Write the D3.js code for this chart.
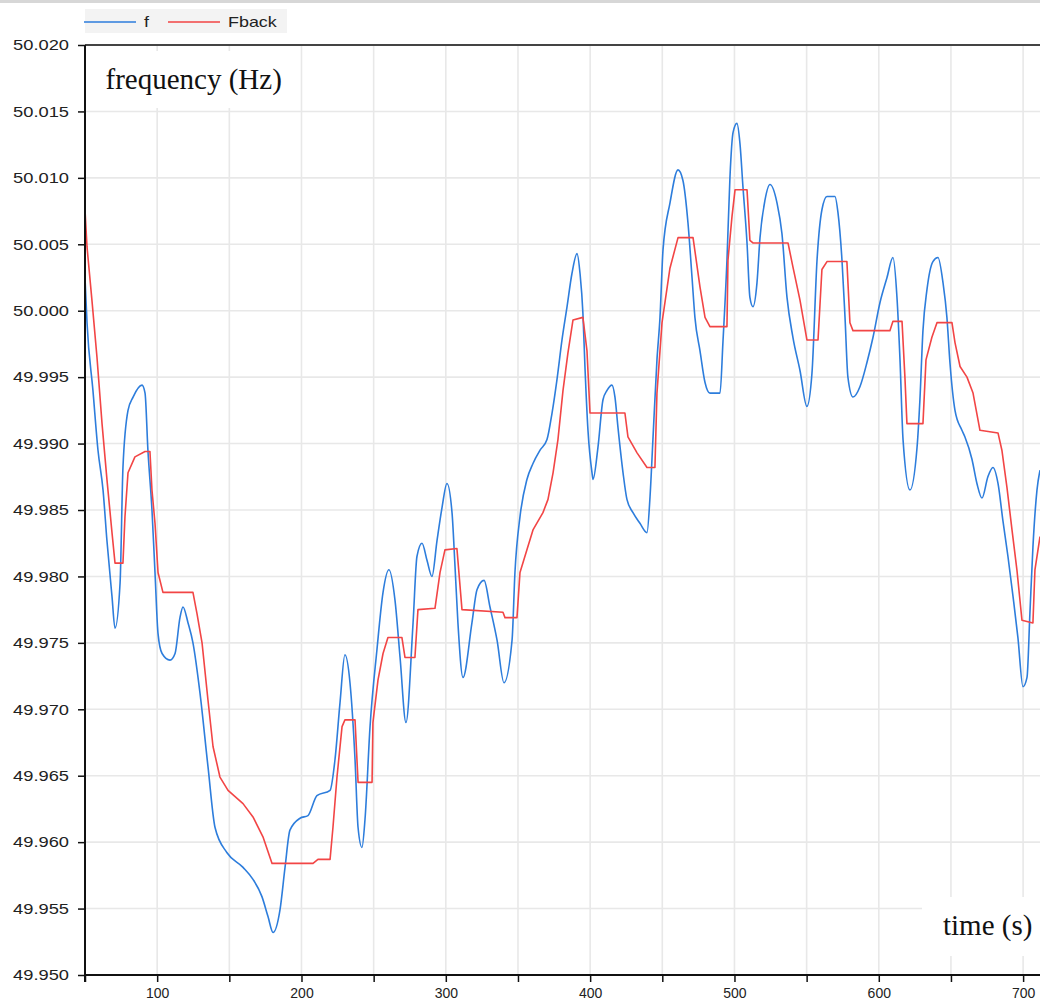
<!DOCTYPE html>
<html>
<head>
<meta charset="utf-8">
<script src="https://cdn.jsdelivr.net/npm/d3@7"></script>
<style>
  html, body { margin: 0; padding: 0; background: #fff; }
  svg { display: block; }
</style>
</head>
<body>
<div id="chart"></div>
<script>
// f (blue) - time (s) and frequency (Hz)
const fTime = [50, 51.4, 55.5, 59.0, 62.5, 65.2, 68.7, 70.8, 74.3, 76.3, 79.8, 83.3, 89.5, 91.6, 93.6, 96.4, 98.5,
  100.6, 103.4, 108.9, 112.4, 115.8, 117.9, 121.4, 124.8, 129.7, 135.2, 140.1, 148.4, 159.5, 166.4, 172.6, 176.8,
  180.3, 185.1, 188.6, 192.0, 199.0, 204.5, 210.7, 219.8, 223.2, 226.7, 230.1, 233.6, 237.1, 239.2, 241.9, 244.0,
  247.5, 252.3, 256.5, 260.6, 264.8, 268.3, 272.4, 277.3, 280.0, 283.5, 287.0, 290.4, 293.9, 297.4, 300.8, 304.3,
  306.4, 308.4, 311.9, 318.1, 321.6, 326.5, 330.6, 335.5, 340.3, 345.9, 347.9, 351.4, 356.2, 360.4, 365.3, 370.1,
  373.6, 377.0, 380.5, 384.0, 387.4, 390.9, 393.0, 395.0, 396.4, 398.5, 401.3, 402.0, 405.4, 408.9, 411.7, 415.1,
  417.2, 419.3, 422.8, 425.5, 429.7, 434.5, 439.4, 441.5, 443.5, 446.3, 448.4, 450.5, 455.3, 460.9, 464.3, 467.8,
  470.6, 472.6, 476.1, 479.6, 483.0, 490.0, 492.0, 494.8, 496.9, 499.0, 501.7, 503.8, 505.9, 508.7, 510.7, 512.8,
  515.6, 517.7, 521.1, 524.6, 529.5, 532.9, 536.4, 540.5, 545.4, 550.2, 553.7, 557.2, 560.6, 564.1, 569.6, 571.7,
  574.5, 576.6, 578.6, 582.1, 587.0, 591.8, 596.0, 600.8, 605.7, 609.8, 612.6, 614.7, 616.8, 621.6, 626.5, 628.5,
  630.6, 633.4, 637.5, 641.0, 644.5, 647.2, 649.3, 652.8, 657.6, 659.7, 664.6, 668.0, 671.5, 675.6, 679.1, 682.6,
  686.0, 689.5, 693.0, 696.4, 699.9, 702.7, 704.7, 706.8, 709.6, 711.7];
const fValue = [50.0025, 49.9991, 49.9940, 49.9895, 49.9865, 49.9827, 49.9785, 49.9761, 49.9795, 49.9882, 49.9925, 49.9935, 49.9944, 49.9938, 49.9895, 49.9850, 49.9803,
  49.9757, 49.9742, 49.9737, 49.9742, 49.9769, 49.9777, 49.9765, 49.9750, 49.9712, 49.9657, 49.9611, 49.9592, 49.9581, 49.9572, 49.9559, 49.9544,
  49.9532, 49.9549, 49.9581, 49.9609, 49.9618, 49.9620, 49.9635, 49.9639, 49.9662, 49.9705, 49.9741, 49.9720, 49.9662, 49.9611, 49.9596, 49.9617,
  49.9687, 49.9745, 49.9788, 49.9805, 49.9782, 49.9739, 49.9690, 49.9765, 49.9815, 49.9825, 49.9812, 49.9800, 49.9827, 49.9852, 49.9870, 49.9848,
  49.9807, 49.9765, 49.9724, 49.9765, 49.9790, 49.9797, 49.9777, 49.9752, 49.9720, 49.9752, 49.9803, 49.9845, 49.9873, 49.9885, 49.9895, 49.9903,
  49.9923, 49.9948, 49.9978, 50.0003, 50.0028, 50.0043, 50.0028, 49.9998, 49.9958, 49.9910, 49.9878, 49.9873, 49.9897, 49.9933, 49.9940, 49.9944,
  49.9935, 49.9912, 49.9878, 49.9858, 49.9848, 49.9840, 49.9833, 49.9860, 49.9903, 49.9963, 49.9995, 50.0046, 50.0081, 50.0106, 50.0098, 50.0066,
  50.0025, 49.9995, 49.9970, 49.9946, 49.9938, 49.9938, 49.9976, 50.0038, 50.0101, 50.0134, 50.0141, 50.0126, 50.0093, 50.0051, 50.0010, 50.0003,
  50.0021, 50.0055, 50.0083, 50.0095, 50.0081, 50.0058, 50.0010, 49.9980, 49.9955, 49.9928, 49.9953, 50.0038, 50.0076, 50.0086, 50.0086, 50.0074,
  50.0038, 49.9995, 49.9950, 49.9935, 49.9943, 49.9961, 49.9980, 50.0006, 50.0025, 50.0040, 50.0010, 49.9963, 49.9903, 49.9865, 49.9897, 49.9933,
  49.9985, 50.0016, 50.0037, 50.0040, 50.0021, 49.9995, 49.9961, 49.9925, 49.9910, 49.9905, 49.9888, 49.9870, 49.9859, 49.9875, 49.9882, 49.9870,
  49.9842, 49.9815, 49.9785, 49.9754, 49.9717, 49.9724, 49.9772, 49.9822, 49.9865, 49.9880];

// Fback (red)
const fbTime = [50, 51.4, 54.8, 58.3, 61.8, 65.2, 68.7, 70.8, 76.3, 77.7, 79.8, 84.6, 91.6, 95.0, 96.4, 98.5, 100.6,
  104.0, 124.8, 127.6, 131.1, 135.2, 138.7, 143.5, 149.1, 159.5, 166.4, 173.3, 179.6, 208.0, 211.4, 219.8, 221.8,
  224.6, 228.1, 230.1, 237.1, 239.2, 248.9, 249.5, 253.0, 256.5, 259.9, 269.6, 271.7, 278.6, 280.7, 292.5, 296.0,
  299.4, 307.7, 311.2, 339.6, 341.0, 349.3, 351.4, 356.2, 360.4, 367.3, 370.8, 374.3, 377.7, 381.2, 384.6, 388.1,
  395.0, 397.8, 399.9, 424.1, 426.2, 432.5, 439.4, 444.9, 446.3, 449.8, 455.3, 460.9, 471.3, 476.1, 479.6, 483.0,
  494.8, 495.5, 498.3, 500.4, 508.7, 510.7, 512.8, 537.1, 540.5, 545.4, 550.2, 557.9, 560.6, 564.1, 577.9, 580.0,
  582.1, 607.7, 609.8, 616.1, 618.1, 619.5, 630.6, 632.7, 636.8, 640.3, 650.7, 652.8, 656.3, 661.1, 665.3, 670.1,
  682.6, 685.3, 688.8, 692.3, 695.7, 699.2, 706.8, 708.2, 711.7];
const fbValue = [50.0076, 50.0048, 50.0008, 49.9965, 49.9915, 49.9873, 49.9833, 49.9810, 49.9810, 49.9845, 49.9878, 49.9890, 49.9894, 49.9894, 49.9865, 49.9840, 49.9803,
  49.9788, 49.9788, 49.9772, 49.9750, 49.9707, 49.9672, 49.9649, 49.9639, 49.9629, 49.9619, 49.9604, 49.9584, 49.9584, 49.9587, 49.9587, 49.9611,
  49.9649, 49.9687, 49.9692, 49.9692, 49.9645, 49.9645, 49.9690, 49.9722, 49.9742, 49.9754, 49.9754, 49.9739, 49.9739, 49.9775, 49.9776, 49.9803,
  49.9820, 49.9821, 49.9775, 49.9773, 49.9769, 49.9769, 49.9803, 49.9820, 49.9835, 49.9848, 49.9858, 49.9878, 49.9903, 49.9940, 49.9968, 49.9993,
  49.9995, 49.9970, 49.9923, 49.9923, 49.9905, 49.9893, 49.9882, 49.9882, 49.9938, 49.9991, 50.0032, 50.0055, 50.0055, 50.0018, 49.9995, 49.9988,
  49.9988, 50.0038, 50.0071, 50.0091, 50.0091, 50.0053, 50.0051, 50.0051, 50.0033, 50.0008, 49.9978, 49.9978, 50.0031, 50.0037, 50.0037, 49.9991,
  49.9985, 49.9985, 49.9992, 49.9992, 49.9950, 49.9915, 49.9915, 49.9963, 49.9980, 49.9991, 49.9991, 49.9976, 49.9958, 49.9950, 49.9938, 49.9910,
  49.9908, 49.9895, 49.9867, 49.9835, 49.9805, 49.9767, 49.9765, 49.9805, 49.9830];

const seriesNames = ["f", "Fback"];
const seriesColors = ["#2d7ddc", "#f24545"];
const xTicks = [50, 100, 150, 200, 250, 300, 350, 400, 450, 500, 550, 600, 650, 700];
const xTickLabels = ["", "100", "", "200", "", "300", "", "400", "", "500", "", "600", "", "700"];
const yTicks = [49.950, 49.955, 49.960, 49.965, 49.970, 49.975, 49.980, 49.985, 49.990, 49.995, 50.000, 50.005, 50.010, 50.015, 50.020];
const yLabel = "frequency (Hz)";
const xLabel = "time (s)";

const width = 1040, height = 1003;
const plot = { left: 85, top: 45, right: 1040, bottom: 975 };

const svg = d3.select("#chart").append("svg")
  .attr("width", width)
  .attr("height", height);

const x = d3.scaleLinear().domain([50, 711.7]).range([plot.left, plot.right]);
const y = d3.scaleLinear().domain([49.950, 50.020]).range([plot.bottom, plot.top]);

// top strip
svg.append("rect").attr("x", 0).attr("y", 0).attr("width", width).attr("height", 3).attr("fill", "#d7d7d7");

// grid
const grid = svg.append("g");
grid.selectAll("line.v")
  .data(xTicks.filter(d => d > 50))
  .enter().append("line")
  .attr("x1", d => x(d)).attr("x2", d => x(d))
  .attr("y1", plot.top).attr("y2", plot.bottom)
  .attr("stroke", "#e8e8e8").attr("stroke-width", 1.6);
grid.selectAll("line.h")
  .data(yTicks.slice(1, -1))
  .enter().append("line")
  .attr("x1", plot.left).attr("x2", plot.right)
  .attr("y1", d => y(d)).attr("y2", d => y(d))
  .attr("stroke", "#e8e8e8").attr("stroke-width", 1.6);

// series
svg.append("clipPath").attr("id", "clip")
  .append("rect")
  .attr("x", plot.left - 1).attr("y", plot.top)
  .attr("width", plot.right - plot.left + 1).attr("height", plot.bottom - plot.top);

const smoothLine = d3.line().x(d => x(d[0])).y(d => y(d[1])).curve(d3.curveMonotoneX);
const stepLine = d3.line().x(d => x(d[0])).y(d => y(d[1]));
const fData = fTime.map((t, i) => [t, fValue[i]]);
const fbData = fbTime.map((t, i) => [t, fbValue[i]]);

const lines = svg.append("g").attr("clip-path", "url(#clip)");
lines.append("path").datum(fData)
  .attr("fill", "none").attr("stroke", seriesColors[0]).attr("stroke-width", 1.6)
  .attr("stroke-linejoin", "round").attr("d", smoothLine);
lines.append("path").datum(fbData)
  .attr("fill", "none").attr("stroke", seriesColors[1]).attr("stroke-width", 1.6)
  .attr("stroke-linejoin", "round").attr("d", stepLine);

// label boxes
svg.append("rect").attr("x", 86).attr("y", 51).attr("width", 204).attr("height", 57).attr("fill", "#fff");
svg.append("text")
  .attr("x", 105.5).attr("y", 89)
  .style("font-family", "'Liberation Serif', 'Times New Roman', serif")
  .style("font-size", "29px").attr("fill", "#111")
  .text(yLabel);

svg.append("rect").attr("x", 922).attr("y", 897).attr("width", 118).attr("height", 59).attr("fill", "#fff");
svg.append("text")
  .attr("x", 943).attr("y", 935)
  .style("font-family", "'Liberation Serif', 'Times New Roman', serif")
  .style("font-size", "29px").attr("fill", "#111")
  .text(xLabel);

// top frame line
svg.append("line")
  .attr("x1", plot.left).attr("x2", plot.right)
  .attr("y1", plot.top).attr("y2", plot.top)
  .attr("stroke", "#444").attr("stroke-width", 2);

// axes
const yAxis = d3.axisLeft(y).tickValues(yTicks).tickSize(7).tickSizeOuter(0);
const gy = svg.append("g")
  .attr("transform", `translate(${plot.left},0)`)
  .call(yAxis);
gy.select(".domain").attr("stroke", "#111").attr("stroke-width", 2)
  .attr("d", `M0,${plot.top}V${plot.bottom + 7}`);
gy.selectAll(".tick line").attr("stroke", "#111").attr("stroke-width", 1.5);
gy.selectAll(".tick text")
  .attr("x", 0)
  .attr("transform", "translate(-16,0) scale(1.22,1)")
  .attr("fill", "#222")
  .style("font-family", "'Liberation Sans', Arial, sans-serif")
  .style("font-size", "15px")
  .text(d => d3.format(".3f")(d));

const xAxis = d3.axisBottom(x).tickValues(xTicks).tickSize(7).tickSizeOuter(0).tickPadding(6)
  .tickFormat((d, i) => xTickLabels[i]);
const gx = svg.append("g")
  .attr("transform", `translate(0,${plot.bottom})`)
  .call(xAxis);
gx.select(".domain").attr("stroke", "#111").attr("stroke-width", 2)
  .attr("d", `M${plot.left - 1},0H${plot.right}`);
gx.selectAll(".tick line").attr("stroke", "#111").attr("stroke-width", 1.5);
gx.selectAll(".tick text")
  .attr("fill", "#222")
  .style("font-family", "'Liberation Sans', Arial, sans-serif")
  .style("font-size", "14px");

// legend
const legend = svg.append("g");
legend.append("rect").attr("x", 85).attr("y", 9).attr("width", 202).attr("height", 24).attr("fill", "#f3f3f3");
const legendX = [84, 168];
const legendTextX = [144, 228];
seriesNames.forEach((name, i) => {
  legend.append("line")
    .attr("x1", legendX[i]).attr("x2", legendX[i] + 52)
    .attr("y1", 22).attr("y2", 22)
    .attr("stroke", seriesColors[i]).attr("stroke-width", 1.6);
  legend.append("text")
    .attr("transform", `translate(${legendTextX[i]},27) scale(1.28,1)`)
    .attr("fill", "#222")
    .style("font-family", "'Liberation Sans', Arial, sans-serif")
    .style("font-size", "14px")
    .text(name);
});
</script>
</body>
</html>
